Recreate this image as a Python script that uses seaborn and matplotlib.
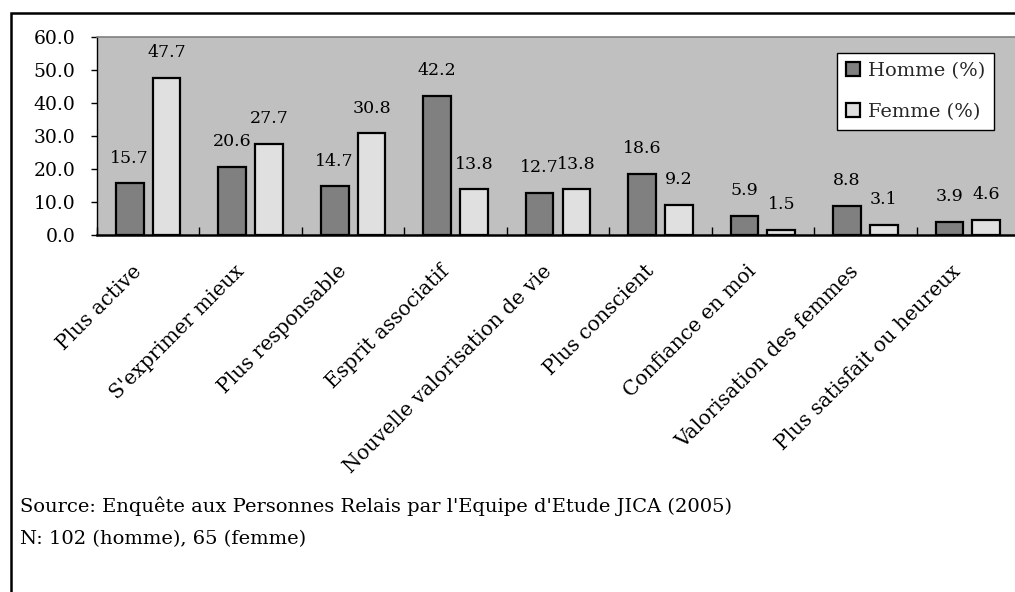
import matplotlib
matplotlib.use("Agg")
import matplotlib.pyplot as plt
from matplotlib.patches import Rectangle
from matplotlib.ticker import FixedLocator, FormatStrFormatter
from matplotlib.transforms import ScaledTranslation
import pandas as pd
import seaborn as sns

categories = [
    "Plus active",
    "S'exprimer mieux",
    "Plus responsable",
    "Esprit associatif",
    "Nouvelle valorisation de vie",
    "Plus conscient",
    "Confiance en moi",
    "Valorisation des femmes",
    "Plus satisfait ou heureux",
]
homme = [15.7, 20.6, 14.7, 42.2, 12.7, 18.6, 5.9, 8.8, 3.9]
femme = [47.7, 27.7, 30.8, 13.8, 13.8, 9.2, 1.5, 3.1, 4.6]
series_names = ["Homme (%)", "Femme (%)"]
y_ticks = [0, 10, 20, 30, 40, 50, 60]
source_lines = [
    "Source: Enquête aux Personnes Relais par l'Equipe d'Etude JICA (2005)",
    "N: 102 (homme), 65 (femme)",
]

df = pd.DataFrame({
    "categorie": categories * 2,
    "serie": [series_names[0]] * len(categories) + [series_names[1]] * len(categories),
    "valeur": homme + femme,
})

sns.set_theme(style="white")
plt.rcParams["font.family"] = ["DejaVu Serif"]

W, H = 1015, 592
fig = plt.figure(figsize=(W / 100, H / 100), dpi=100)
fig.patch.set_facecolor("white")

# plot area in pixel terms: left 97, top 37, bottom 235, extends past the right edge
ax = fig.add_axes([97 / W, 1 - 235 / H, 922 / W, (235 - 37) / H])
ax.set_facecolor("#c0c0c0")

sns.barplot(
    data=df, x="categorie", y="valeur", hue="serie",
    palette=["#808080", "#e0e0e0"], width=0.72, gap=0.25,
    edgecolor="black", linewidth=1.6, saturation=1, ax=ax,
)

for cont in ax.containers:
    ax.bar_label(cont, fmt="%.1f", padding=12, fontsize=12.5, color="black")

ax.set_xlim(-0.5, len(categories) - 0.5)
ax.set_ylim(0, 60)
ax.set_xlabel("")
ax.set_ylabel("")

ax.yaxis.set_major_locator(FixedLocator(y_ticks))
ax.yaxis.set_major_formatter(FormatStrFormatter("%.1f"))
ax.tick_params(axis="y", direction="out", length=4, width=1, color="black",
               labelsize=13.5, pad=11.5, labelcolor="black", left=True)

ax.set_xticks(range(len(categories)))
ax.set_xticklabels(categories, rotation=45, ha="right", va="center",
                   rotation_mode="anchor", fontsize=14.5, color="black")
ax.tick_params(axis="x", which="major", length=0, pad=24, bottom=True)
shift = ScaledTranslation(-7 / 72, 0, fig.dpi_scale_trans)
for lbl in ax.get_xticklabels():
    lbl.set_transform(lbl.get_transform() + shift)
ax.set_xticks([i - 0.5 for i in range(len(categories) + 1)], minor=True)
ax.tick_params(axis="x", which="minor", direction="in", length=6, width=1,
               color="black", bottom=True)

for side in ["left", "bottom", "top", "right"]:
    ax.spines[side].set_visible(True)
ax.spines["left"].set_color("black")
ax.spines["left"].set_linewidth(1.0)
ax.spines["bottom"].set_color("black")
ax.spines["bottom"].set_linewidth(1.8)
ax.spines["top"].set_color("#808080")
ax.spines["top"].set_linewidth(1.2)
ax.spines["right"].set_visible(False)

handles, labels = ax.get_legend_handles_labels()
leg = ax.legend(
    handles, labels, loc="upper left",
    bbox_to_anchor=(837 / W, 1 - 53 / H), bbox_transform=fig.transFigure,
    borderaxespad=0, fontsize=14, frameon=True, fancybox=False,
    handlelength=0.75, handleheight=0.75, handletextpad=0.4,
    labelspacing=1.2, borderpad=0.45, title=None,
)
leg.get_frame().set_edgecolor("black")
leg.get_frame().set_linewidth(1.0)
leg.get_frame().set_facecolor("white")
leg.get_frame().set_alpha(1)
for h in leg.legend_handles:
    h.set_edgecolor("black")
    h.set_linewidth(1.6)

fig.text(20 / W, 1 - 512 / H, source_lines[0], fontsize=14, va="baseline",
         ha="left", color="black")
fig.text(20 / W, 1 - 544 / H, source_lines[1], fontsize=14, va="baseline",
         ha="left", color="black")

# outer frame around the whole chart
fig.patches.append(Rectangle((11 / W, -0.2), 1.2, 1.2 - 13 / H,
                             transform=fig.transFigure, fill=False,
                             edgecolor="black", linewidth=1.8, clip_on=False))

fig.savefig("out.png", dpi=100)
